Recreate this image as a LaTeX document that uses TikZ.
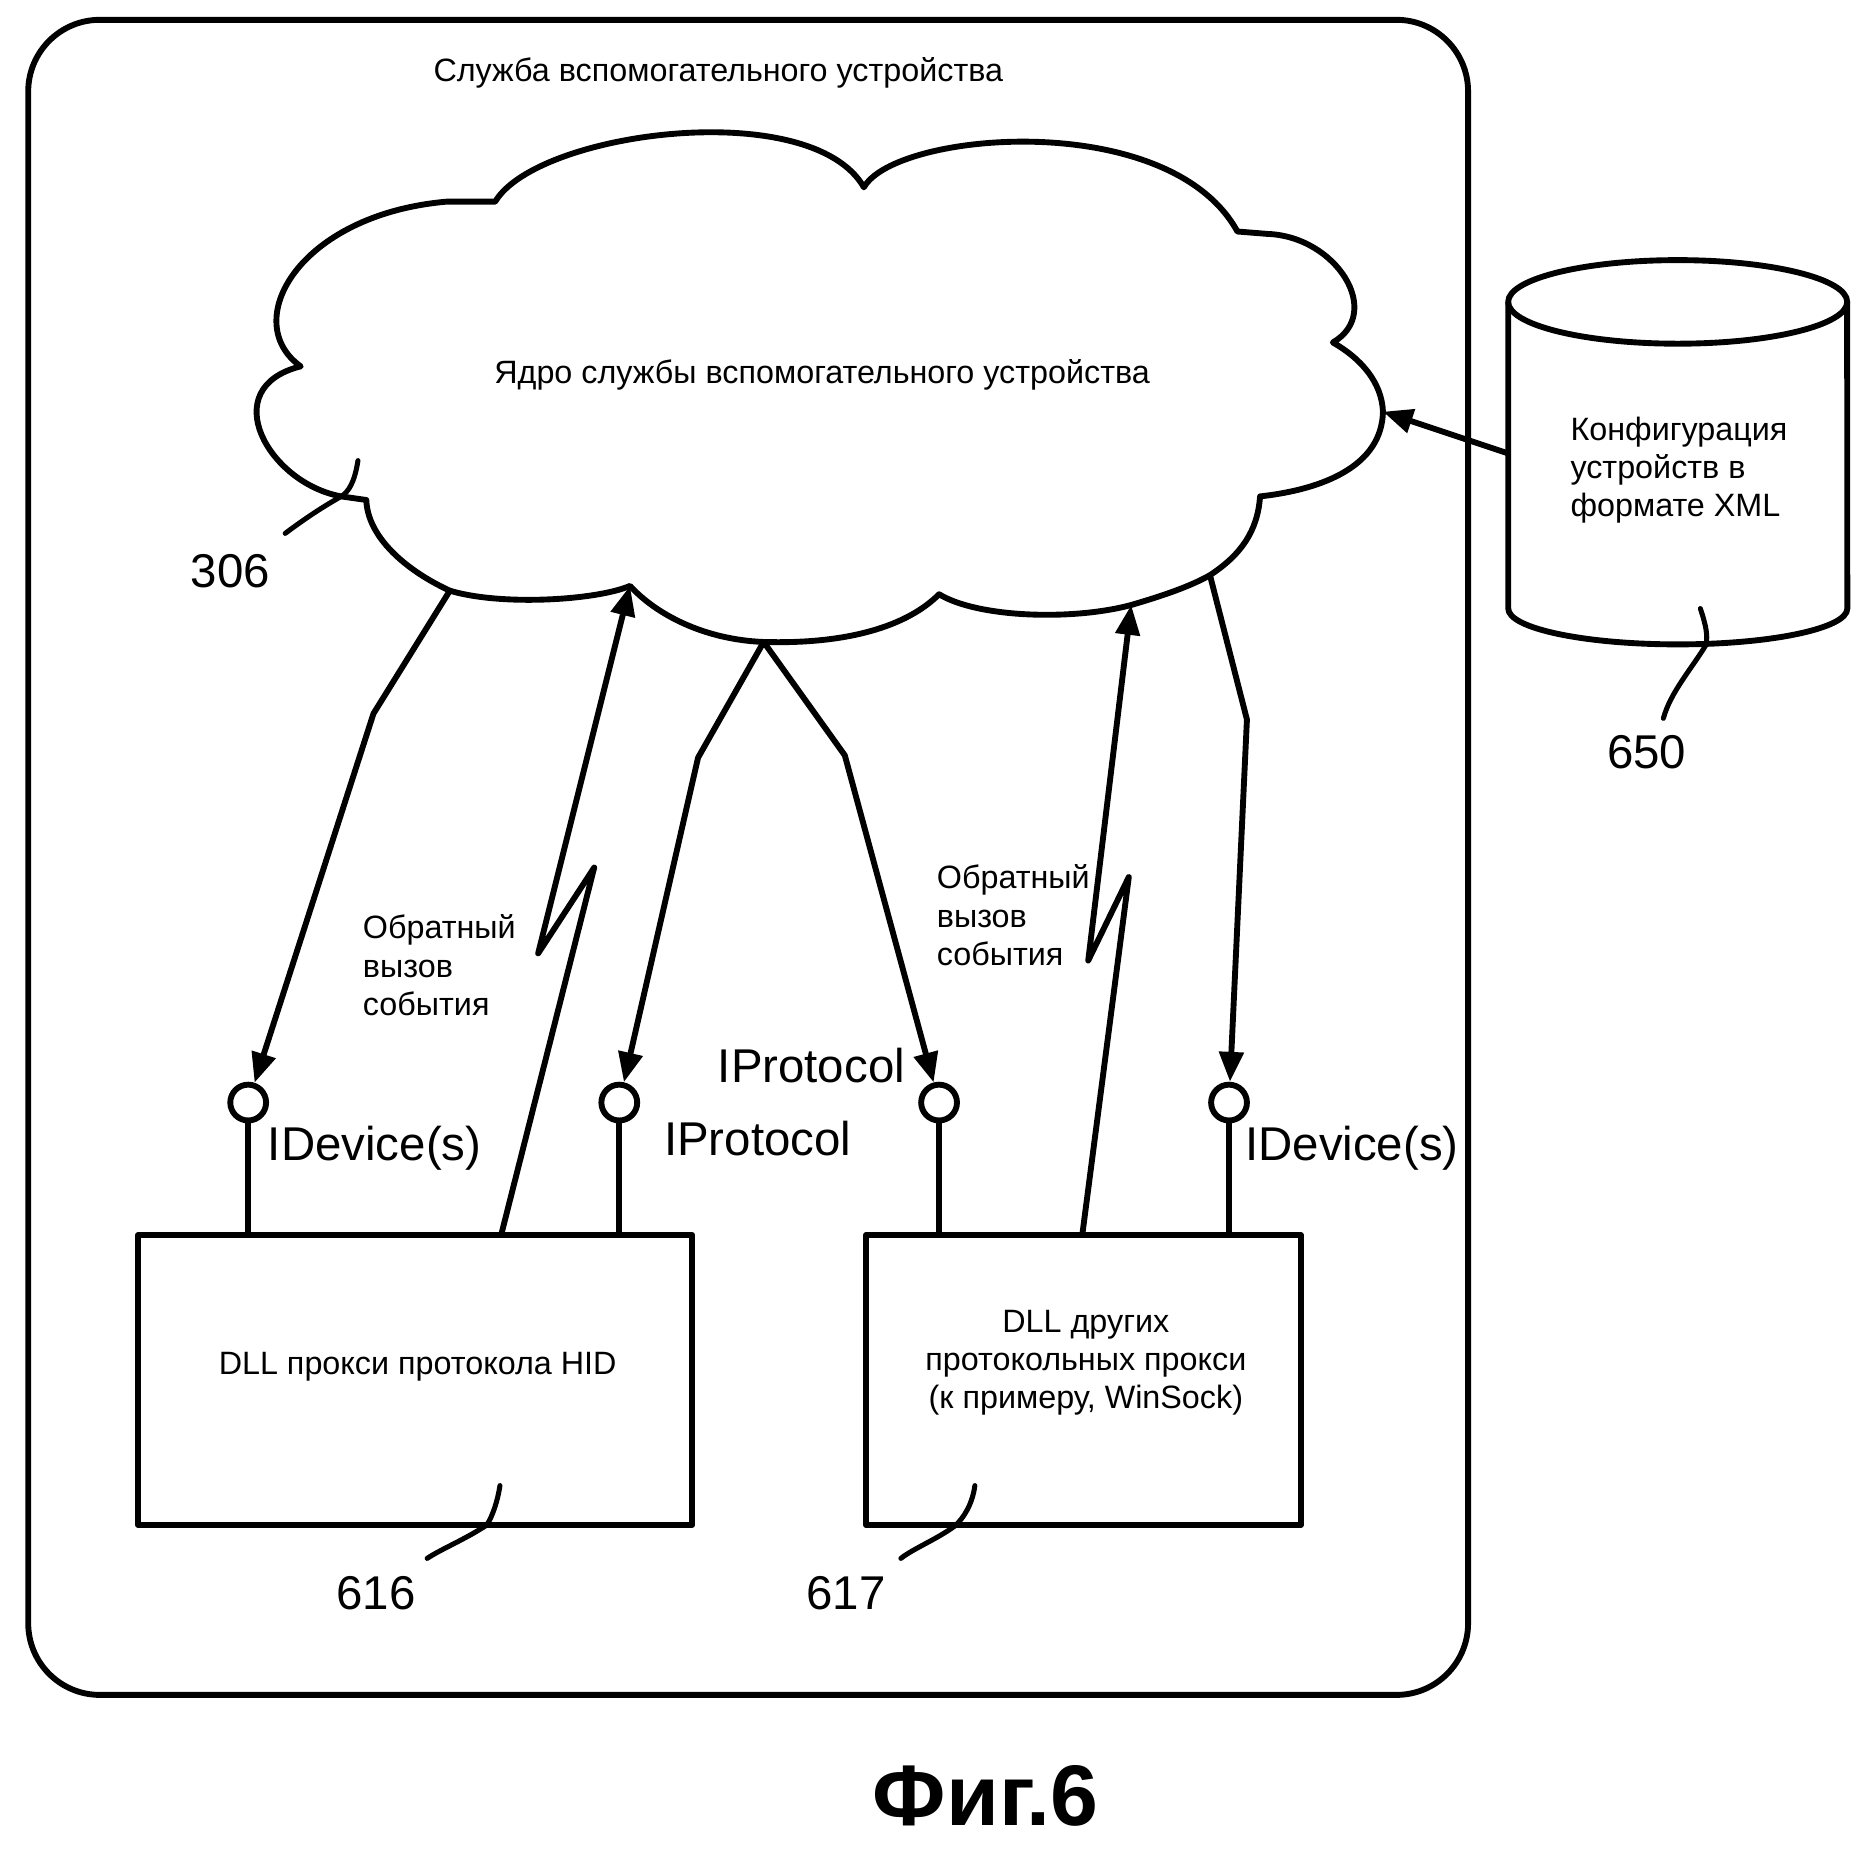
\documentclass[tikz,border=0pt]{standalone}
\usepackage{fontspec}
\setmainfont{Liberation Sans}
\usetikzlibrary{positioning,
        arrows.meta}

\begin{document}
\begin{tikzpicture}[x=0.01cm, y=0.01cm, line width=1.4pt, line join=round,
        small/.style={font=\fontsize{7.7}{9.1}\selectfont},
        big/.style={font=\fontsize{11.3}{13}\selectfont},
        lolli/.style={circle, draw, minimum size=0.3cm, inner sep=0pt},
        proxy/.style={rectangle, draw, minimum height=2.43cm},
        conn/.style={-{Triangle[length=2.5mm, width=2mm]}},
        refline/.style={line width=1.2pt, line cap=round}]
            \useasboundingbox (0,0) rectangle (1568,-1550);

            \node [draw, rounded corners=0.6cm, minimum width=12.06cm, minimum height=14.03cm] (service) at (627,-718.5) {};
            \node [small] (servicetitle) at (602,-61) {Служба вспомогательного устройства};

            % points on the cloud
            \coordinate (cL) at (377,-495);
            \coordinate (cA) at (528,-491);
            \coordinate (cB) at (640,-538);
            \coordinate (cC) at (948,-507);
            \coordinate (cR) at (1014,-482);
            \coordinate (cX) at (1159,-345);
            \coordinate (c306) at (286,-416);

            \draw (415,-169) .. controls (450,-110) and (680,-80) .. (724,-157)
                .. controls (750,-110) and (980,-90) .. (1037,-194) -- (1062,-196)
                .. controls (1120,-198) and (1160,-262) .. (1117,-287)
                .. controls (1140,-300) and (1158,-320) .. (cX)
                .. controls (1158,-390) and (1110,-410) .. (1056,-416)
                .. controls (1054,-445) and (1040,-465) .. (cR)
                .. controls (995,-493) and (965,-502) .. (cC)
                .. controls (900,-520) and (820,-518) .. (787,-498)
                .. controls (760,-525) and (710,-540) .. (cB)
                .. controls (590,-536) and (550,-515) .. (cA)
                .. controls (500,-503) and (420,-508) .. (cL)
                .. controls (340,-478) and (308,-450) .. (307,-419) -- (c306)
                .. controls (225,-405) and (180,-325) .. (252,-307)
                .. controls (200,-270) and (250,-180) .. (374,-169) -- cycle;
            \node [small] (core) at (689,-314) {Ядро службы вспомогательного устройства};

            \draw [refline] (300,-386) .. controls (297,-405) and (292,-412) .. (c306)
                .. controls (270,-425) and (255,-435) .. (239,-447);
            \node [big] (n306) at (193,-479) {306};

            % xml store
            \draw (1264,-253) -- (1264,-510) arc [start angle=180, end angle=360, x radius=1.42cm, y radius=0.3cm] -- (1548,-253);
            \draw (1406,-253) ellipse [x radius=1.42cm, y radius=0.35cm];
            \node [small, align=left, anchor=west] (xmlcfg) at (1302,-394) {Конфигурация\\устройств в\\формате XML};
            \coordinate (xmlL) at (1264,-380);
            \draw [conn] (xmlL) -- (cX);
            \draw [refline] (1425,-510) .. controls (1430,-525) and (1431,-532) .. (1430,-540)
                .. controls (1418,-560) and (1400,-580) .. (1394,-602);
            \node [big] (n650) at (1380,-630) {650};

            % proxies
            \node [proxy, minimum width=4.64cm] (hid) at (348,-1156.5) {};
            \node [small] (hidtext) at (350,-1145) {DLL прокси протокола HID};
            \node [proxy, minimum width=3.64cm] (other) at (908,-1156.5) {};
            \node [small, align=center] (othertext) at (910,-1142) {DLL других\\протокольных прокси\\(к примеру, WinSock)};

            \node [lolli] (ifA) at (208,-924) {};
            \node [lolli] (ifB) at (519,-924) {};
            \node [lolli] (ifC) at (787,-924) {};
            \node [lolli] (ifD) at (1030,-924) {};
            \draw (ifA) -- (ifA |- hid.north);
            \draw (ifB) -- (ifB |- hid.north);
            \draw (ifC) -- (ifC |- other.north);
            \draw (ifD) -- (ifD |- other.north);

            \node [big] (devA) at (314,-962) {IDevice(s)};
            \node [big] (protB) at (635,-954) {IProtocol};
            \node [big] (protC) at (680,-893) {IProtocol};
            \node [big] (devD) at (1133,-962) {IDevice(s)};

            \coordinate (bA) at (313,-598);
            \coordinate (bB) at (585,-635);
            \coordinate (bC) at (708,-633);
            \coordinate (bD) at (1045,-603);
            \draw [conn] (cL) -- (bA) -- (ifA);
            \draw [conn] (cB) -- (bB) -- (ifB);
            \draw [conn] (cB) -- (bC) -- (ifC);
            \draw [conn] (cR) -- (bD) -- (ifD);

            % event callbacks
            \coordinate (cbA) at (420,-1035);
            \coordinate (kA1) at (498,-727);
            \coordinate (kA2) at (451,-799);
            \draw [conn] (cbA) -- (kA1) -- (kA2) -- (cA);
            \coordinate (cbB) at (907,-1035);
            \coordinate (kB1) at (946,-735);
            \coordinate (kB2) at (912,-805);
            \draw [conn] (cbB) -- (kB1) -- (kB2) -- (cC);
            \node [small, align=left, anchor=west] (evA) at (290,-809) {Обратный\\вызов\\события};
            \node [small, align=left, anchor=west] (evB) at (771,-767) {Обратный\\вызов\\события};

            \draw [refline] (419,-1245) .. controls (417,-1258) and (413,-1270) .. (408,-1278)
                .. controls (390,-1290) and (370,-1298) .. (358,-1306);
            \node [big] (n616) at (315,-1335) {616};
            \draw [refline] (817,-1245) .. controls (815,-1260) and (808,-1272) .. (800,-1279)
                .. controls (785,-1290) and (765,-1298) .. (755,-1306);
            \node [big] (n617) at (709,-1335) {617};

            \node [font=\fontsize{20.5}{24}\selectfont\bfseries] (fig) at (826,-1505) {Фиг.6};
        \end{tikzpicture}
\end{document}
